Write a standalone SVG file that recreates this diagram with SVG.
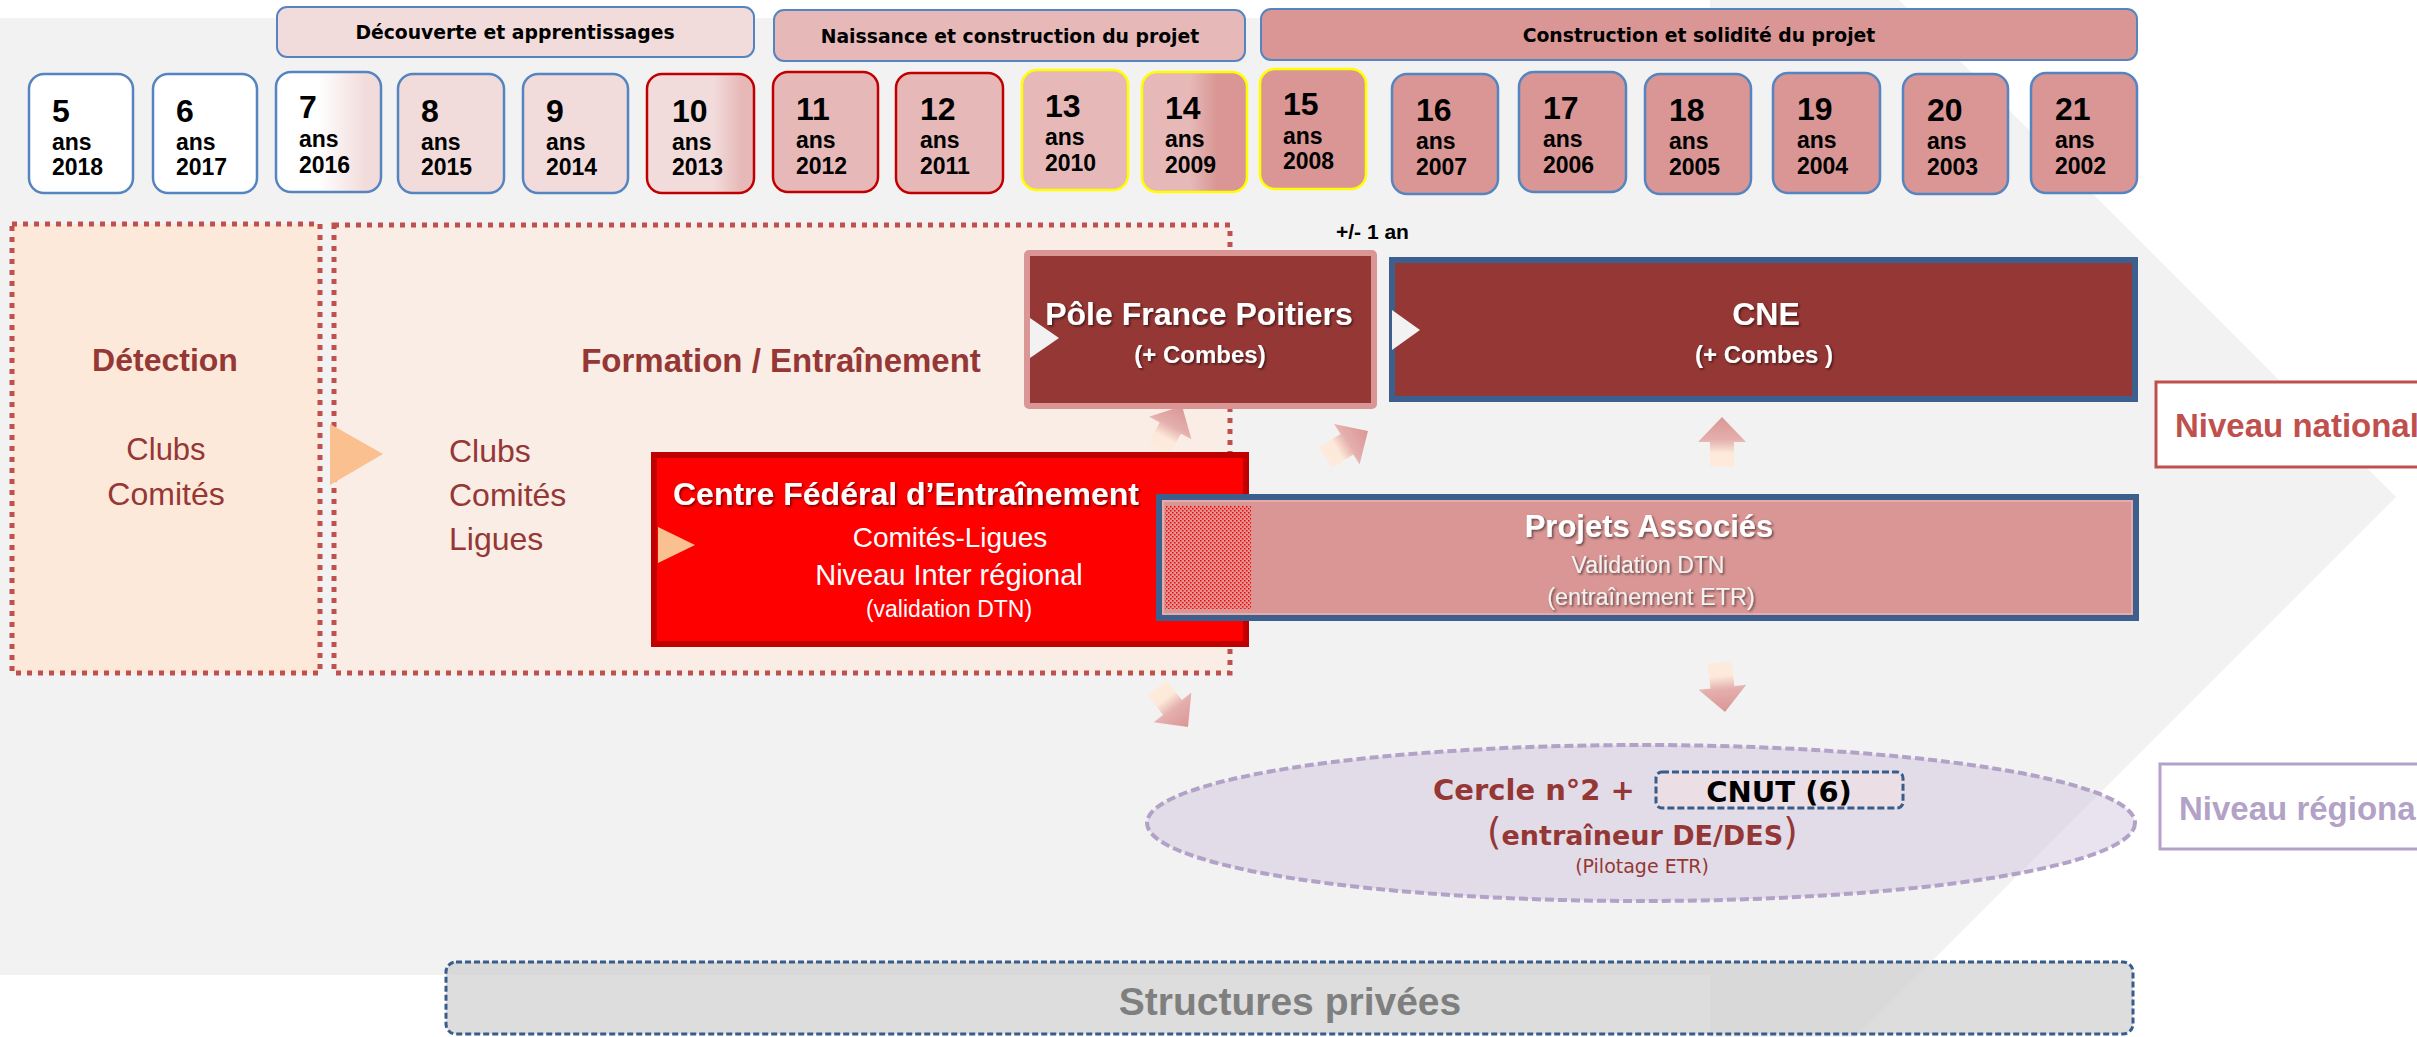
<svg xmlns="http://www.w3.org/2000/svg" width="2417" height="1037" viewBox="0 0 2417 1037">
<style>
.ls{font-family:'Liberation Sans',Arial,sans-serif}
.dv{font-family:'DejaVu Sans',Verdana,sans-serif}
.b{font-weight:bold}
.c{text-anchor:middle}
.hdr{font-family:'DejaVu Sans',Verdana,sans-serif;font-weight:bold;font-size:18.8px;text-anchor:middle;fill:#000}
.band{stroke:#5585c0;stroke-width:2}
.age{stroke-width:2.5}
.num{font-family:'Liberation Sans',Arial,sans-serif;font-weight:bold;font-size:32px;fill:#000}
.sm{font-family:'Liberation Sans',Arial,sans-serif;font-weight:bold;font-size:23px;fill:#000}
.dr{fill:#953735}
.dot{stroke:#c0504d;stroke-width:5;stroke-dasharray:5 6}
.wt{fill:#fff}
</style>
<defs>
<linearGradient id="g7" x1="0" y1="0" x2="1" y2="0"><stop offset="0.4" stop-color="#ffffff"/><stop offset="0.85" stop-color="#f2dcdb"/></linearGradient>
<linearGradient id="g10" x1="0" y1="0" x2="1" y2="0"><stop offset="0.62" stop-color="#f2dcdb"/><stop offset="0.88" stop-color="#e6b9b8"/></linearGradient>
<linearGradient id="g14" x1="0" y1="0" x2="1" y2="0"><stop offset="0.45" stop-color="#e6b9b8"/><stop offset="0.72" stop-color="#d99694"/></linearGradient>
<linearGradient id="ag" gradientUnits="userSpaceOnUse" x1="0" y1="0" x2="0" y2="50"><stop offset="0" stop-color="#d99694"/><stop offset="0.45" stop-color="#e4afad"/><stop offset="0.72" stop-color="#fde9d9"/><stop offset="1" stop-color="#fdebdd"/></linearGradient>
<pattern id="hatch" width="4" height="4" patternUnits="userSpaceOnUse"><rect width="4" height="4" fill="#d99694"/><rect x="0" y="0" width="1.5" height="1.5" fill="#ff0000"/><rect x="2" y="2" width="1.5" height="1.5" fill="#ff0000"/></pattern>
<filter id="sh" x="-10%" y="-30%" width="120%" height="160%"><feDropShadow dx="1.5" dy="1.5" stdDeviation="1" flood-color="#000" flood-opacity="0.55"/></filter>
<polygon id="blk" points="0,0 24,25 12,25 12,50 -12,50 -12,25 -24,25" fill="url(#ag)"/>
</defs>

<g id="background">
<rect x="0" y="0" width="2417" height="1037" fill="#ffffff"/>
<rect x="0" y="18" width="1712" height="957" fill="#f2f2f2"/>
<polygon points="1710,0 1899,0 2396,497 1856,1037 1710,1037" fill="#f2f2f2"/>
</g>

<g id="phases">
<g id="phase-decouverte"><rect class="band" x="277" y="7" width="477" height="50" rx="10" fill="#f2dcdb"/><text class="hdr" x="515" y="39">Découverte et apprentissages</text></g>
<g id="phase-naissance"><rect class="band" x="774" y="10" width="471" height="51" rx="10" fill="#e6b9b8"/><text class="hdr" x="1010" y="43">Naissance et construction du projet</text></g>
<g id="phase-construction"><rect class="band" x="1261" y="9" width="876" height="51" rx="10" fill="#d99694"/><text class="hdr" x="1699" y="42">Construction et solidité du projet</text></g>
</g>

<g id="ages">
<g id="age5"><rect class="age" x="29" y="74" width="104" height="119" rx="15" fill="#ffffff" stroke="#5585c0"/><text class="num" x="52" y="122">5</text><text class="sm" x="52" y="150">ans</text><text class="sm" x="52" y="175">2018</text></g>
<g id="age6"><rect class="age" x="153" y="74" width="104" height="119" rx="15" fill="#ffffff" stroke="#5585c0"/><text class="num" x="176" y="122">6</text><text class="sm" x="176" y="150">ans</text><text class="sm" x="176" y="175">2017</text></g>
<g id="age7"><rect class="age" x="276" y="72" width="105" height="120" rx="15" fill="url(#g7)" stroke="#5585c0"/><text class="num" x="299" y="118">7</text><text class="sm" x="299" y="147">ans</text><text class="sm" x="299" y="173">2016</text></g>
<g id="age8"><rect class="age" x="398" y="74" width="106" height="119" rx="15" fill="#f2dcdb" stroke="#5585c0"/><text class="num" x="421" y="122">8</text><text class="sm" x="421" y="150">ans</text><text class="sm" x="421" y="175">2015</text></g>
<g id="age9"><rect class="age" x="523" y="74" width="105" height="119" rx="15" fill="#f2dcdb" stroke="#5585c0"/><text class="num" x="546" y="122">9</text><text class="sm" x="546" y="150">ans</text><text class="sm" x="546" y="175">2014</text></g>
<g id="age10"><rect class="age" x="647" y="74" width="107" height="119" rx="15" fill="url(#g10)" stroke="#c00000"/><text class="num" x="672" y="122">10</text><text class="sm" x="672" y="150">ans</text><text class="sm" x="672" y="175">2013</text></g>
<g id="age11"><rect class="age" x="773" y="72" width="105" height="120" rx="15" fill="#e6b9b8" stroke="#c00000"/><text class="num" x="796" y="120">11</text><text class="sm" x="796" y="148">ans</text><text class="sm" x="796" y="174">2012</text></g>
<g id="age12"><rect class="age" x="896" y="73" width="107" height="120" rx="15" fill="#e6b9b8" stroke="#c00000"/><text class="num" x="920" y="120">12</text><text class="sm" x="920" y="148">ans</text><text class="sm" x="920" y="174">2011</text></g>
<g id="age13"><rect class="age" x="1022" y="70" width="106" height="120" rx="15" fill="#e6b9b8" stroke="#ffff00"/><text class="num" x="1045" y="117">13</text><text class="sm" x="1045" y="145">ans</text><text class="sm" x="1045" y="171">2010</text></g>
<g id="age14"><rect class="age" x="1142" y="72" width="105" height="120" rx="15" fill="url(#g14)" stroke="#ffff00"/><text class="num" x="1165" y="119">14</text><text class="sm" x="1165" y="147">ans</text><text class="sm" x="1165" y="173">2009</text></g>
<g id="age15"><rect class="age" x="1260" y="69" width="106" height="120" rx="15" fill="#d99694" stroke="#ffff00"/><text class="num" x="1283" y="115">15</text><text class="sm" x="1283" y="144">ans</text><text class="sm" x="1283" y="169">2008</text></g>
<g id="age16"><rect class="age" x="1392" y="74" width="106" height="120" rx="15" fill="#d99694" stroke="#5585c0"/><text class="num" x="1416" y="121">16</text><text class="sm" x="1416" y="149">ans</text><text class="sm" x="1416" y="175">2007</text></g>
<g id="age17"><rect class="age" x="1519" y="72" width="107" height="120" rx="15" fill="#d99694" stroke="#5585c0"/><text class="num" x="1543" y="119">17</text><text class="sm" x="1543" y="147">ans</text><text class="sm" x="1543" y="173">2006</text></g>
<g id="age18"><rect class="age" x="1645" y="74" width="106" height="120" rx="15" fill="#d99694" stroke="#5585c0"/><text class="num" x="1669" y="121">18</text><text class="sm" x="1669" y="149">ans</text><text class="sm" x="1669" y="175">2005</text></g>
<g id="age19"><rect class="age" x="1773" y="73" width="107" height="120" rx="15" fill="#d99694" stroke="#5585c0"/><text class="num" x="1797" y="120">19</text><text class="sm" x="1797" y="148">ans</text><text class="sm" x="1797" y="174">2004</text></g>
<g id="age20"><rect class="age" x="1903" y="74" width="105" height="120" rx="15" fill="#d99694" stroke="#5585c0"/><text class="num" x="1927" y="121">20</text><text class="sm" x="1927" y="149">ans</text><text class="sm" x="1927" y="175">2003</text></g>
<g id="age21"><rect class="age" x="2031" y="73" width="106" height="120" rx="15" fill="#d99694" stroke="#5585c0"/><text class="num" x="2055" y="120">21</text><text class="sm" x="2055" y="148">ans</text><text class="sm" x="2055" y="174">2002</text></g>
</g>

<g id="detection">
<rect class="dot" x="12" y="224" width="308" height="449" fill="#fde9d9"/>
<text class="ls b c dr" x="165" y="371" font-size="32">Détection</text>
<text class="ls c dr" x="166" y="460" font-size="31">Clubs</text>
<text class="ls c dr" x="166" y="505" font-size="32">Comités</text>
</g>

<g id="formation">
<rect class="dot" x="334" y="225" width="896" height="448" fill="#f9ede5"/>
<text class="ls b c dr" x="781" y="372" font-size="33">Formation / Entraînement</text>
<text class="ls dr" x="449" y="462" font-size="32">Clubs</text>
<text class="ls dr" x="449" y="506" font-size="32">Comités</text>
<text class="ls dr" x="449" y="550" font-size="32">Ligues</text>
</g>

<g id="connectors">
<use href="#blk" transform="translate(1182,406) rotate(28)"/>
<use href="#blk" transform="translate(1368,431) rotate(58)"/>
<use href="#blk" transform="translate(1722,417)"/>
<use href="#blk" transform="translate(1725,712) rotate(174)"/>
<use href="#blk" transform="translate(1188,727) rotate(141.7)"/>
<polygon points="330,424 383,454 330,485" fill="#fac090"/>
</g>

<g id="pole">
<rect x="1027" y="253" width="347" height="153" rx="2" fill="#953735" stroke="#d99694" stroke-width="6"/>
<polygon points="1030,318 1059,338 1030,358" fill="#f2f2f2"/>
<text class="ls b c wt" x="1199" y="325" font-size="32" filter="url(#sh)">Pôle France Poitiers</text>
<text class="ls b c wt" x="1200" y="363" font-size="24" filter="url(#sh)">(+ Combes)</text>
</g>

<text id="delta" class="ls b" x="1336" y="239" font-size="21" fill="#000">+/- 1 an</text>

<g id="cne">
<rect x="1392" y="260" width="743" height="139" fill="#953735" stroke="#3c5f8d" stroke-width="6"/>
<polygon points="1392,310 1420,330 1392,350" fill="#f2f2f2"/>
<text class="ls b c wt" x="1766" y="325" font-size="32" filter="url(#sh)">CNE</text>
<text class="ls b c wt" x="1764" y="363" font-size="24" filter="url(#sh)">(+ Combes )</text>
</g>

<g id="centre">
<rect x="654" y="455" width="592" height="189" fill="#ff0000" stroke="#c00000" stroke-width="6"/>
<polygon points="658,527 695,545 658,563" fill="#fac090"/>
<text class="ls b wt" x="673" y="505" font-size="32" filter="url(#sh)">Centre Fédéral d’Entraînement</text>
<text class="ls c wt" x="950" y="547" font-size="28">Comités-Ligues</text>
<text class="ls c wt" x="949" y="585" font-size="29">Niveau Inter régional</text>
<text class="ls c wt" x="949" y="617" font-size="23">(validation DTN)</text>
</g>

<g id="projets">
<rect x="1159" y="497" width="977" height="121" fill="#d99694" stroke="#3c5f8d" stroke-width="6"/>
<rect x="1163" y="501" width="969" height="113" fill="none" stroke="#e8b3b1" stroke-width="1.5"/>
<rect x="1165" y="506" width="86" height="103" fill="url(#hatch)"/>
<text class="ls b c wt" x="1649" y="537" font-size="31" filter="url(#sh)">Projets Associés</text>
<text class="ls c" x="1648" y="573" font-size="23" fill="#f2f2f2" filter="url(#sh)">Validation DTN</text>
<text class="ls c" x="1651" y="605" font-size="23.5" fill="#f2f2f2" filter="url(#sh)">(entraînement ETR)</text>
</g>

<g id="cercle">
<ellipse cx="1641" cy="823" rx="494" ry="78" fill="#ccc1da" fill-opacity="0.45" stroke="#b3a2c7" stroke-width="4" stroke-dasharray="9 4"/>
<text class="dv b dr" x="1433" y="800" font-size="29">Cercle n°2 +</text>
<text class="dv b dr" x="1487" y="845" font-size="27"><tspan font-size="37" font-weight="normal">(</tspan>entraîneur DE/DES<tspan font-size="37" font-weight="normal">)</tspan></text>
<text class="dv c dr" x="1642" y="873" font-size="19">(Pilotage ETR)</text>
</g>

<g id="cnut">
<rect x="1656" y="772" width="247" height="36" rx="6" fill="#ebdfe5" stroke="#385d8a" stroke-width="3" stroke-dasharray="7 3"/>
<text class="dv b c" x="1779" y="802" font-size="29" fill="#000">CNUT (6)</text>
</g>

<g id="niveau-national">
<rect x="2156" y="382" width="280" height="85" fill="#ffffff" stroke="#c0504d" stroke-width="3"/>
<text class="ls b" x="2175" y="437" font-size="33" fill="#c0504d">Niveau national</text>
</g>

<g id="niveau-regional">
<rect x="2160" y="764" width="280" height="85" fill="#ffffff" stroke="#b3a2c7" stroke-width="3"/>
<text class="ls b" x="2179" y="820" font-size="33" fill="#b3a2c7">Niveau régional</text>
</g>

<g id="structures">
<rect x="446" y="962" width="1687" height="72" rx="10" fill="#cfcfcf" fill-opacity="0.7" stroke="#385d8a" stroke-width="3" stroke-dasharray="6 3"/>
<text class="ls b c" x="1290" y="1015" font-size="39" fill="#7f7f7f">Structures privées</text>
</g>
</svg>
